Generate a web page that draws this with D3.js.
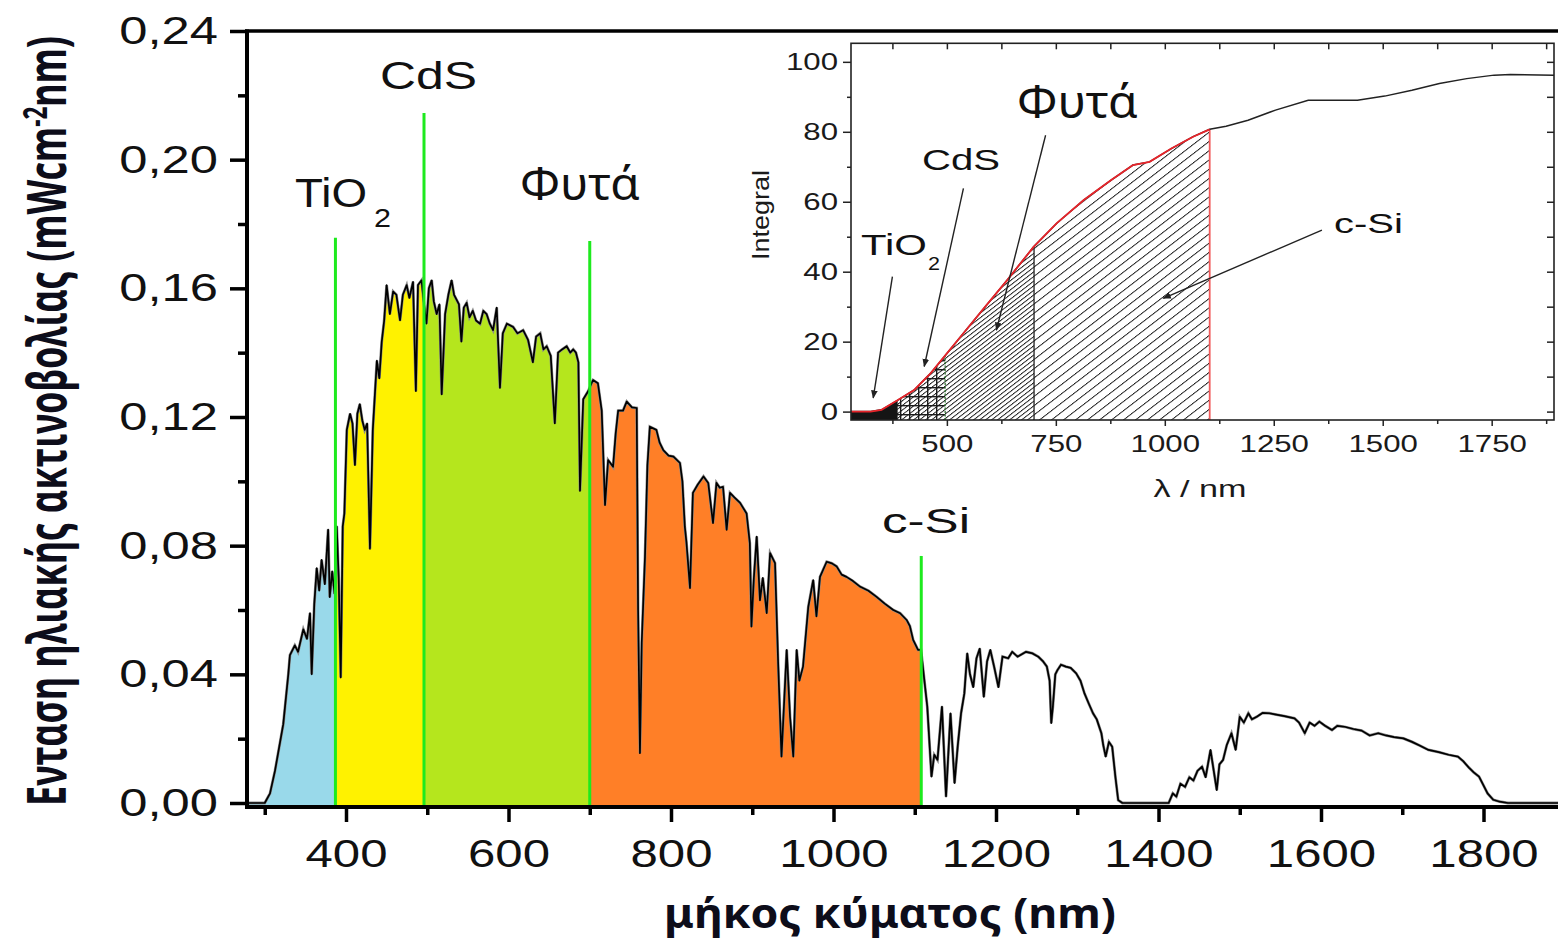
<!DOCTYPE html>
<html>
<head>
<meta charset="utf-8">
<script src="https://cdn.jsdelivr.net/npm/d3@7"></script>
<style>
    body { margin: 0; background: #fff; }
    svg { display: block; }
</style>
</head>
<body>
<script>
// solar spectrum: [wavelength nm, mW cm^-2 nm^-1]
let spectrum = [
    [280, 0], [300, 0], [306.5, 0.003], [312.6, 0.010], [322.8, 0.0245], [329, 0.040], [331, 0.046],
    [337, 0.049], [341, 0.047], [347.5, 0.054], [352, 0.051], [355.7, 0.059], [357.8, 0.040], [361, 0.062],
    [364, 0.073], [367, 0.066], [370, 0.0756], [374, 0.068], [378, 0.085], [380, 0.064], [383, 0.072],
    [386, 0.065], [388.6, 0.086], [391, 0.070], [393.5, 0.039], [396, 0.086], [398, 0.090], [401, 0.116],
    [405, 0.121], [408, 0.118], [411, 0.105], [414, 0.121], [417, 0.124], [420, 0.119], [423, 0.116],
    [426, 0.118], [429.5, 0.079], [433, 0.116], [438, 0.1375], [441, 0.132], [444, 0.1434], [447, 0.150],
    [450, 0.161], [454, 0.152], [458, 0.159], [462, 0.158], [466.5, 0.150], [470, 0.158], [474.7, 0.161],
    [478, 0.157], [482.5, 0.162], [486, 0.128], [488.6, 0.161], [493, 0.1625], [496, 0.155], [499, 0.149],
    [502, 0.160], [505.5, 0.1625], [508, 0.156], [511.6, 0.152], [515, 0.155], [517.8, 0.127], [522, 0.152],
    [526, 0.158], [530, 0.1625], [533, 0.158], [536, 0.1565], [539, 0.155], [542, 0.1434], [545, 0.154],
    [548.5, 0.1555], [552, 0.151], [556, 0.153], [560, 0.150], [565, 0.149], [569, 0.153], [573, 0.152],
    [577, 0.149], [581, 0.147], [585.5, 0.154], [589.5, 0.129], [593, 0.146], [598, 0.149], [605.7, 0.148],
    [611, 0.146], [618, 0.147], [624, 0.144], [630, 0.137], [634, 0.145], [639, 0.146], [643, 0.141],
    [647, 0.142], [652, 0.139], [657, 0.118], [661, 0.140], [666, 0.141], [671.6, 0.142], [676, 0.140],
    [679.7, 0.141], [683, 0.140], [686, 0.137], [688, 0.097], [692, 0.1255], [698, 0.128], [704, 0.1315],
    [710, 0.1305], [714.7, 0.122], [718.8, 0.0926], [722.6, 0.1066], [728.7, 0.1045], [732, 0.115],
    [735, 0.122], [741, 0.122], [745.5, 0.1248], [752, 0.123], [757.8, 0.1228], [759.5, 0.060],
    [761.8, 0.0155], [764, 0.050], [768, 0.0765], [771, 0.105], [774, 0.117], [782, 0.116], [786, 0.112],
    [790.5, 0.1097], [797, 0.108], [803, 0.1077], [811, 0.1057], [814, 0.100], [817, 0.0859], [819, 0.081],
    [823.4, 0.0668], [827, 0.0964], [833, 0.099], [840, 0.1015], [845.8, 0.0995], [851.7, 0.087],
    [856, 0.0995], [860, 0.098], [864, 0.0983], [868.5, 0.0849], [872.6, 0.0964], [878, 0.095],
    [885, 0.0933], [893, 0.090], [897, 0.0808], [899, 0.0548], [902, 0.070], [905.5, 0.0828], [909.5, 0.063],
    [913, 0.070], [917.8, 0.059], [922, 0.0777], [928, 0.0746], [932, 0.0424], [936, 0.0144], [939, 0.030],
    [942.4, 0.0476], [946.5, 0.0268], [950.5, 0.0144], [954.7, 0.0476], [958, 0.038], [962.5, 0.0424],
    [969, 0.061], [975, 0.0693], [979, 0.058], [983.4, 0.0703], [991.6, 0.075], [998, 0.0745], [1004, 0.0735],
    [1010, 0.071], [1016, 0.0703], [1024, 0.069], [1033, 0.0672], [1043, 0.066], [1053, 0.0641], [1063, 0.062],
    [1073.6, 0.060], [1082, 0.059], [1090, 0.0569], [1094, 0.055], [1098, 0.0507], [1104, 0.0476],
    [1107.7, 0.0476], [1111, 0.040], [1115.4, 0.030], [1120.6, 0.0082], [1124, 0.015], [1128, 0.0134],
    [1133.5, 0.030], [1138.5, 0.002], [1144, 0.0279], [1149, 0.0062], [1153, 0.018], [1157, 0.0279],
    [1161, 0.034], [1164.6, 0.0465], [1168, 0.040], [1172, 0.036], [1176, 0.045], [1180, 0.048], [1185, 0.033],
    [1189, 0.044], [1193, 0.0476], [1198, 0.042], [1203, 0.036], [1208, 0.0455], [1215, 0.045], [1220, 0.047],
    [1226.5, 0.0455], [1237, 0.047], [1245, 0.0465], [1252, 0.0455], [1258, 0.044], [1262.6, 0.0424],
    [1266, 0.038], [1268, 0.0248], [1270, 0.030], [1273, 0.040], [1275.6, 0.0413], [1280, 0.043],
    [1286, 0.0424], [1292, 0.042], [1298.7, 0.0403], [1304, 0.038], [1309, 0.034], [1314, 0.031],
    [1319.4, 0.0279], [1324, 0.026], [1329.7, 0.0217], [1332, 0.018], [1335, 0.0144], [1339, 0.019],
    [1343, 0.0175], [1347, 0.008], [1350.4, 0.0009], [1355.6, 0], [1412.5, 0], [1417.6, 0.003], [1422, 0.002],
    [1427, 0.006], [1432.7, 0.005], [1438, 0.008], [1443, 0.007], [1448, 0.010], [1453.6, 0.0113], [1458, 0.008],
    [1464, 0.0165], [1468, 0.010], [1471.7, 0.004], [1475, 0.012], [1479.5, 0.0134], [1484, 0.018],
    [1489.8, 0.0217], [1495, 0.0165], [1500, 0.0268], [1505, 0.025], [1510.6, 0.0279], [1515, 0.026],
    [1520.9, 0.0268], [1528, 0.028], [1536.4, 0.0279], [1545, 0.0275], [1555, 0.027], [1567.4, 0.0263],
    [1573, 0.025], [1580, 0.0217], [1586, 0.025], [1592, 0.024], [1598, 0.0253], [1605, 0.024],
    [1613.5, 0.0227], [1620, 0.024], [1629, 0.0237], [1640, 0.023], [1650, 0.0225], [1660, 0.021],
    [1670.4, 0.0217], [1680, 0.021], [1690, 0.0205], [1701.4, 0.0201], [1712, 0.019], [1722, 0.0178],
    [1732.3, 0.0165], [1745, 0.0158], [1757, 0.015], [1768.6, 0.0144], [1775, 0.013], [1782, 0.011],
    [1788, 0.0095], [1794.5, 0.0082], [1800, 0.0055], [1805, 0.003], [1812, 0.001], [1820, 0.0004],
    [1830, 0], [1900, 0]
];

// integral curve of the inset: [wavelength nm, %]
let integral = [
    [280, 0], [325, 0], [350, 0.5], [387.6, 3.3], [425, 6.2], [463, 11], [494, 15.7], [538, 22.4],
    [588, 30], [638.5, 37.6], [699, 47.1], [751.6, 53.8], [814, 60.5], [877, 66.2], [927, 70.5],
    [965, 71.4], [1015, 75.2], [1065, 78.6], [1103, 80.7], [1140.6, 81.6], [1191, 83.3], [1254, 86.2],
    [1329, 89], [1379, 89], [1442, 89], [1504.6, 90.2], [1567, 91.9], [1630, 93.8], [1692.7, 95.2],
    [1755.5, 96.2], [1793, 96.4], [1893, 96.2]
];

// absorption edges (nm) and how high the green markers go
let edgeNames = ["TiO2", "CdS", "Φυτά", "c-Si"];
let edges = [387, 496, 700, 1108];
let edgeTops = [0.1757, 0.2145, 0.1747, 0.0768];
let regionColors = ["#99d9ea", "#fff200", "#b5e61d", "#ff7f27"];

// inset hatched ranges (nm)
let insetEdges = [387, 496, 700, 1103];

let yMajor = [0, 0.04, 0.08, 0.12, 0.16, 0.20, 0.24];
let yMinor = [0.02, 0.06, 0.10, 0.14, 0.18, 0.22];
let xMajor = [400, 600, 800, 1000, 1200, 1400, 1600, 1800];
let xMinor = [300, 500, 700, 900, 1100, 1300, 1500, 1700, 1900];

let iyMajor = [0, 20, 40, 60, 80, 100];
let iyMinor = [10, 30, 50, 70, 90];
let ixMajor = [500, 750, 1000, 1250, 1500, 1750];
let ixMinor = [375, 625, 875, 1125, 1375, 1625, 1875];

let w = 1558;
let h = 945;
let ink = "#111";
let arial = "'Liberation Sans', Arial, sans-serif";
let sans = "'Noto Sans', 'Open Sans', sans-serif";

let svg = d3.select("body")
    .append("svg")
    .attr("width", w)
    .attr("height", h);

svg.append("rect").attr("width", w).attr("height", h).attr("fill", "#fff");

let defs = svg.append("defs");

// stretch text to a width (the picture is wider than its fonts)
function fit(sel, k) {
    sel.each(function () {
        let len = this.getComputedTextLength();
        d3.select(this).attr("textLength", len * k).attr("lengthAdjust", "spacingAndGlyphs");
    });
}
function fitTo(sel, len) {
    sel.attr("textLength", len).attr("lengthAdjust", "spacingAndGlyphs");
}

let comma = d3.formatLocale({decimal: ",", thousands: ".", grouping: [3], currency: ["", ""]});
let plain = d3.format("d");

// ---------------- main chart ----------------
let x = d3.scaleLinear().domain([280, 1900]).range([248.5, 1564.75]);
let y = d3.scaleLinear().domain([0, 0.24]).range([803, 31]);
let axisY = 807;

let regions = [[280, edges[0]], [edges[0], edges[1]], [edges[1], edges[2]], [edges[2], edges[3]]];

regions.forEach(function (r, i) {
    defs.append("clipPath").attr("id", "reg" + i)
        .append("rect")
        .attr("x", x(r[0]))
        .attr("y", 0)
        .attr("width", x(r[1]) - x(r[0]))
        .attr("height", h);
});

let area = d3.area()
    .x(d => x(d[0]))
    .y0(axisY - 1)
    .y1(d => y(d[1]));

let line = d3.line()
    .x(d => x(d[0]))
    .y(d => y(d[1]));

regions.forEach(function (r, i) {
    svg.append("path")
        .datum(spectrum)
        .attr("d", area)
        .attr("fill", regionColors[i])
        .attr("clip-path", "url(#reg" + i + ")");
});

svg.append("path")
    .datum(spectrum)
    .attr("d", line)
    .attr("fill", "none")
    .attr("stroke", "#8a8a8a")
    .attr("stroke-width", 2.8);

svg.append("path")
    .datum(spectrum)
    .attr("d", line)
    .attr("fill", "none")
    .attr("stroke", "#000")
    .attr("stroke-width", 1.7)
    .attr("stroke-linejoin", "round");

// green edge markers
svg.selectAll(".edge")
    .data(edges)
    .enter()
    .append("line")
    .attr("class", "edge")
    .attr("x1", d => x(d))
    .attr("x2", d => x(d))
    .attr("y1", (d, i) => y(edgeTops[i]))
    .attr("y2", axisY)
    .attr("stroke", "#1eea1e")
    .attr("stroke-width", 3);

// axes
let yAxis = svg.append("g")
    .attr("transform", "translate(247,0)")
    .call(d3.axisLeft(y).tickValues(yMajor).tickSize(17).tickPadding(12).tickFormat(comma.format(".2f")));
svg.append("g")
    .attr("transform", "translate(247,0)")
    .call(d3.axisLeft(y).tickValues(yMinor).tickSize(9).tickFormat(""));

let xAxis = svg.append("g")
    .attr("transform", "translate(0," + axisY + ")")
    .call(d3.axisBottom(x).tickValues(xMajor).tickSize(15).tickPadding(17).tickFormat(plain));
svg.append("g")
    .attr("transform", "translate(0," + axisY + ")")
    .call(d3.axisBottom(x).tickValues(xMinor).tickSize(8).tickFormat(""));

svg.selectAll(".domain").remove();
svg.selectAll(".tick line").attr("stroke", "#000").attr("stroke-width", 3.5);
svg.selectAll(".tick text")
    .attr("font-family", arial)
    .attr("font-size", 39)
    .attr("fill", ink);
fit(yAxis.selectAll(".tick text"), 1.3);
fit(xAxis.selectAll(".tick text"), 1.26);

// frame
svg.append("line").attr("x1", 247).attr("x2", 247).attr("y1", 29.5).attr("y2", 809)
    .attr("stroke", "#000").attr("stroke-width", 4);
svg.append("line").attr("x1", 245).attr("x2", w).attr("y1", axisY).attr("y2", axisY)
    .attr("stroke", "#000").attr("stroke-width", 4);
svg.append("line").attr("x1", 245).attr("x2", w).attr("y1", 31).attr("y2", 31)
    .attr("stroke", "#000").attr("stroke-width", 3.5);

// edge labels
function label(g, txt, px, py, size, len, font) {
    let t = g.append("text")
        .attr("x", px)
        .attr("y", py)
        .attr("font-family", font || arial)
        .attr("font-size", size)
        .attr("fill", ink)
        .text(txt);
    fitTo(t, len);
    return t;
}

label(svg, "TiO", 295, 207, 40, 72);
label(svg, "2", 374, 227, 25, 17);
label(svg, edgeNames[1], 380, 89, 38, 97);
label(svg, edgeNames[2], 520, 200, 45, 120, sans);
label(svg, edgeNames[3], 882, 533, 35, 88);

// axis titles
let xt = svg.append("text")
    .attr("x", 890)
    .attr("y", 928)
    .attr("text-anchor", "middle")
    .attr("font-family", sans)
    .attr("font-weight", 700)
    .attr("font-size", 41)
    .attr("fill", "#0d0d1a")
    .text("μήκος κύματος (nm)");
fitTo(xt, 452);

// rotated title: narrow glyphs, stretched across
let yt = svg.append("text")
    .attr("transform", "translate(66,421) rotate(-90) scale(1,1.55)")
    .attr("text-anchor", "middle")
    .attr("font-family", sans)
    .attr("font-weight", 700)
    .attr("font-size", 35)
    .attr("fill", "#0d0d1a");
yt.append("tspan").text("Ενταση ηλιακής ακτινοβολίας (mWcm");
yt.append("tspan").attr("dy", -12).attr("font-size", 22).text("-2");
yt.append("tspan").attr("dy", 12).text("nm)");
fitTo(yt, 770);

// ---------------- inset ----------------
let ix = d3.scaleLinear().domain([280, 1893]).range([851, 1554]);
let iy = d3.scaleLinear().domain([-2.4, 105.3]).range([420, 43.3]);
let inset = svg.append("g");

inset.append("rect")
    .attr("x", ix.range()[0])
    .attr("y", iy.range()[1])
    .attr("width", ix.range()[1] - ix.range()[0])
    .attr("height", iy.range()[0] - iy.range()[1])
    .attr("fill", "#fff");

// hatch patterns
function hatch(id, offset) {
    let p = defs.append("pattern")
        .attr("id", id)
        .attr("patternUnits", "userSpaceOnUse")
        .attr("width", 12)
        .attr("height", 12)
        .attr("patternTransform", "skewX(-52.4)");
    p.append("rect").attr("x", offset).attr("y", 0).attr("width", 1.5).attr("height", 12).attr("fill", "#1a1a1a");
}
hatch("hatchSi", 0);
hatch("hatchPl", 6);
let grid = defs.append("pattern")
    .attr("id", "grid")
    .attr("patternUnits", "userSpaceOnUse")
    .attr("width", 9)
    .attr("height", 9);
grid.append("rect").attr("width", 9).attr("height", 1.4).attr("fill", "#1a1a1a");
grid.append("rect").attr("width", 1.4).attr("height", 9).attr("fill", "#1a1a1a");

let iarea = d3.area()
    .x(d => ix(d[0]))
    .y0(iy(-2.4))
    .y1(d => iy(d[1]));
let iline = d3.line()
    .x(d => ix(d[0]))
    .y(d => iy(d[1]));

let fills = ["#151515", "url(#grid)", "url(#hatchPl)", "url(#hatchSi)"];
for (let k = 3; k >= 0; k--) {
    defs.append("clipPath").attr("id", "ireg" + k)
        .append("rect")
        .attr("x", ix(280))
        .attr("y", 0)
        .attr("width", ix(insetEdges[k]) - ix(280))
        .attr("height", h);
    inset.append("path")
        .datum(integral)
        .attr("d", iarea)
        .attr("fill", fills[k])
        .attr("clip-path", "url(#ireg" + k + ")");
}

// value at an edge
function integralAt(l) {
    let i = d3.bisector(d => d[0]).left(integral, l);
    let a = integral[Math.max(i - 1, 0)], b = integral[i];
    return a[1] + (b[1] - a[1]) * (l - a[0]) / (b[0] - a[0]);
}

inset.append("line")
    .attr("x1", ix(insetEdges[1])).attr("x2", ix(insetEdges[1]))
    .attr("y1", iy(-2.4)).attr("y2", iy(integralAt(insetEdges[1])))
    .attr("stroke", "#2a7a2a").attr("stroke-width", 1.2).attr("stroke-dasharray", "2,1.5");
inset.append("line")
    .attr("x1", ix(insetEdges[2])).attr("x2", ix(insetEdges[2]))
    .attr("y1", iy(-2.4)).attr("y2", iy(integralAt(insetEdges[2])))
    .attr("stroke", "#222").attr("stroke-width", 1.3);
inset.append("line")
    .attr("x1", ix(insetEdges[3])).attr("x2", ix(insetEdges[3]))
    .attr("y1", iy(-2.4)).attr("y2", iy(integralAt(insetEdges[3])))
    .attr("stroke", "#f25a5a").attr("stroke-width", 1.8);

inset.append("path")
    .datum(integral)
    .attr("d", iline)
    .attr("fill", "none")
    .attr("stroke", "#222")
    .attr("stroke-width", 1.5);
inset.append("path")
    .datum(integral.filter(d => d[0] <= insetEdges[3]))
    .attr("d", iline)
    .attr("fill", "none")
    .attr("stroke", "#e8242a")
    .attr("stroke-width", 1.8);

// inset axes
let ib = inset.append("g").attr("transform", "translate(0,420)")
    .call(d3.axisBottom(ix).tickValues(ixMajor).tickSize(6).tickPadding(9).tickFormat(plain));
inset.append("g").attr("transform", "translate(0,420)")
    .call(d3.axisBottom(ix).tickValues(ixMinor).tickSize(4).tickFormat(""));
inset.append("g").attr("transform", "translate(0,43.3)")
    .call(d3.axisTop(ix).tickValues(ixMajor.concat(ixMinor)).tickSize(-6).tickFormat(""));
let il = inset.append("g").attr("transform", "translate(851,0)")
    .call(d3.axisLeft(iy).tickValues(iyMajor).tickSize(8).tickPadding(5).tickFormat(plain));
inset.append("g").attr("transform", "translate(851,0)")
    .call(d3.axisLeft(iy).tickValues(iyMinor).tickSize(4).tickFormat(""));
inset.append("g").attr("transform", "translate(1554,0)")
    .call(d3.axisRight(iy).tickValues(iyMajor.concat(iyMinor)).tickSize(-7).tickFormat(""));

inset.selectAll(".domain").remove();
inset.selectAll(".tick line").attr("stroke", "#222").attr("stroke-width", 1.5);
inset.selectAll(".tick text")
    .attr("font-family", arial)
    .attr("font-size", 24)
    .attr("fill", "#1a1a1a");
fit(ib.selectAll(".tick text"), 1.3);
fit(il.selectAll(".tick text"), 1.3);

inset.append("rect")
    .attr("x", ix.range()[0])
    .attr("y", iy.range()[1])
    .attr("width", ix.range()[1] - ix.range()[0])
    .attr("height", iy.range()[0] - iy.range()[1])
    .attr("fill", "none")
    .attr("stroke", "#222")
    .attr("stroke-width", 1.6);

// arrows
defs.append("marker")
    .attr("id", "head")
    .attr("viewBox", "0 0 10 10")
    .attr("refX", 9)
    .attr("refY", 5)
    .attr("markerWidth", 6)
    .attr("markerHeight", 6)
    .attr("orient", "auto")
    .append("path")
    .attr("d", "M0,1 L10,5 L0,9 Z")
    .attr("fill", "#222");

function arrow(l1, v1, l2, v2) {
    inset.append("line")
        .attr("x1", ix(l1)).attr("y1", iy(v1))
        .attr("x2", ix(l2)).attr("y2", iy(v2))
        .attr("stroke", "#222")
        .attr("stroke-width", 1.4)
        .attr("marker-end", "url(#head)");
}
arrow(375, 38.6, 331, 3.9);
arrow(538, 63.8, 448, 12.9);
arrow(726.5, 79, 613.6, 23.3);
arrow(1360.5, 51.9, 996.6, 32.4);

label(inset, "TiO", 861, 255, 30, 66);
label(inset, "2", 928, 270, 19, 12);
label(inset, edgeNames[1], 922, 170, 30, 78);
label(inset, edgeNames[2], 1017, 118, 45, 121, sans);
label(inset, edgeNames[3], 1334, 233, 27, 69);

let lt = inset.append("text")
    .attr("x", 1200)
    .attr("y", 497)
    .attr("text-anchor", "middle")
    .attr("font-family", arial)
    .attr("font-size", 24)
    .attr("fill", "#1a1a1a")
    .text("λ / nm");
fitTo(lt, 93);

let it = inset.append("text")
    .attr("transform", "translate(769,215) rotate(-90)")
    .attr("text-anchor", "middle")
    .attr("font-family", arial)
    .attr("font-size", 24)
    .attr("fill", "#1a1a1a")
    .text("Integral");
fitTo(it, 90);
</script>
</body>
</html>
